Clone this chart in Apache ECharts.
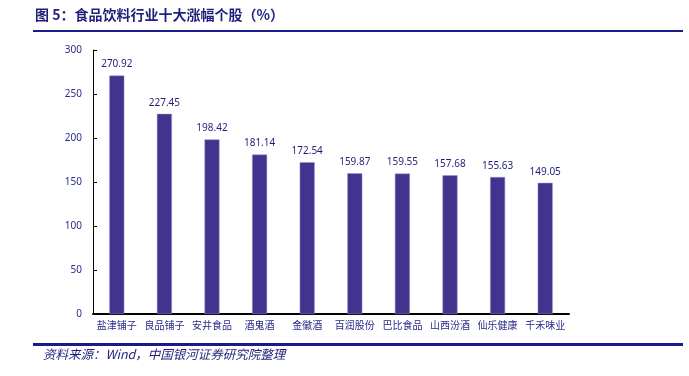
<!DOCTYPE html>
<html>
<head>
<meta charset="utf-8">
<script src="https://cdn.jsdelivr.net/npm/echarts@6/dist/echarts.min.js"></script>
<style>
html, body { margin: 0; padding: 0; background: #fff; }
#chart { width: 689px; height: 376px; }
</style>
</head>
<body>
<div id="chart"></div>
<script>
var categories = ['盐津铺子', '良品铺子', '安井食品', '酒鬼酒', '金徽酒', '百润股份', '巴比食品', '山西汾酒', '仙乐健康', '千禾味业'];
var values = [270.92, 227.45, 198.42, 181.14, 172.54, 159.87, 159.55, 157.68, 155.63, 149.05];
var titleText = '图 5：食品饮料行业十大涨幅个股（%）';
var sourceText = '资料来源：Wind，中国银河证券研究院整理';

var myChart = echarts.init(document.getElementById('chart'));

var option = {
    animation: false,
    grid: { left: 93, right: 120, top: 50, bottom: 62 },
    graphic: [
        {
            type: 'text', left: 35, top: 8,
            style: { text: titleText, fill: '#1f1f7a', font: 'bold 14px "Noto Sans CJK SC"' }
        },
        {
            type: 'rect', shape: { x: 33, y: 30, width: 650, height: 2 },
            style: { fill: '#1a1a8c' }
        },
        {
            type: 'rect', shape: { x: 33, y: 343, width: 650, height: 3 },
            style: { fill: '#1a1a8c' }
        },
        {
            type: 'text', left: 43, top: 348,
            style: { text: sourceText, fill: '#1f1f7a', font: 'italic 12.5px "Noto Sans CJK SC"' }
        }
    ],
    xAxis: {
        type: 'category',
        data: categories,
        axisLine: { lineStyle: { color: '#000', width: 2 } },
        axisTick: { show: false },
        axisLabel: { color: '#2a2a8a', fontSize: 10, margin: 6, interval: 0, fontFamily: 'Noto Sans CJK SC' }
    },
    yAxis: {
        type: 'value',
        min: 0, max: 300, interval: 50,
        axisLine: { show: true, lineStyle: { color: '#000', width: 1 } },
        axisTick: { show: true, inside: true, length: 4, lineStyle: { color: '#000' } },
        splitLine: { show: false },
        axisLabel: { color: '#2a2a8a', fontSize: 10, margin: 11, fontFamily: 'Noto Sans' }
    },
    series: [{
        type: 'bar',
        data: values,
        barWidth: 15,
        itemStyle: { color: '#41348f', borderColor: '#9b93c8', borderWidth: 0.5 },
        label: {
            show: true, position: 'top', distance: 6,
            color: '#1f1f7a', fontSize: 10, fontFamily: 'Noto Sans',
            formatter: function (p) { return p.value.toFixed(2); }
        }
    }]
};

myChart.setOption(option);
</script>
</body>
</html>
